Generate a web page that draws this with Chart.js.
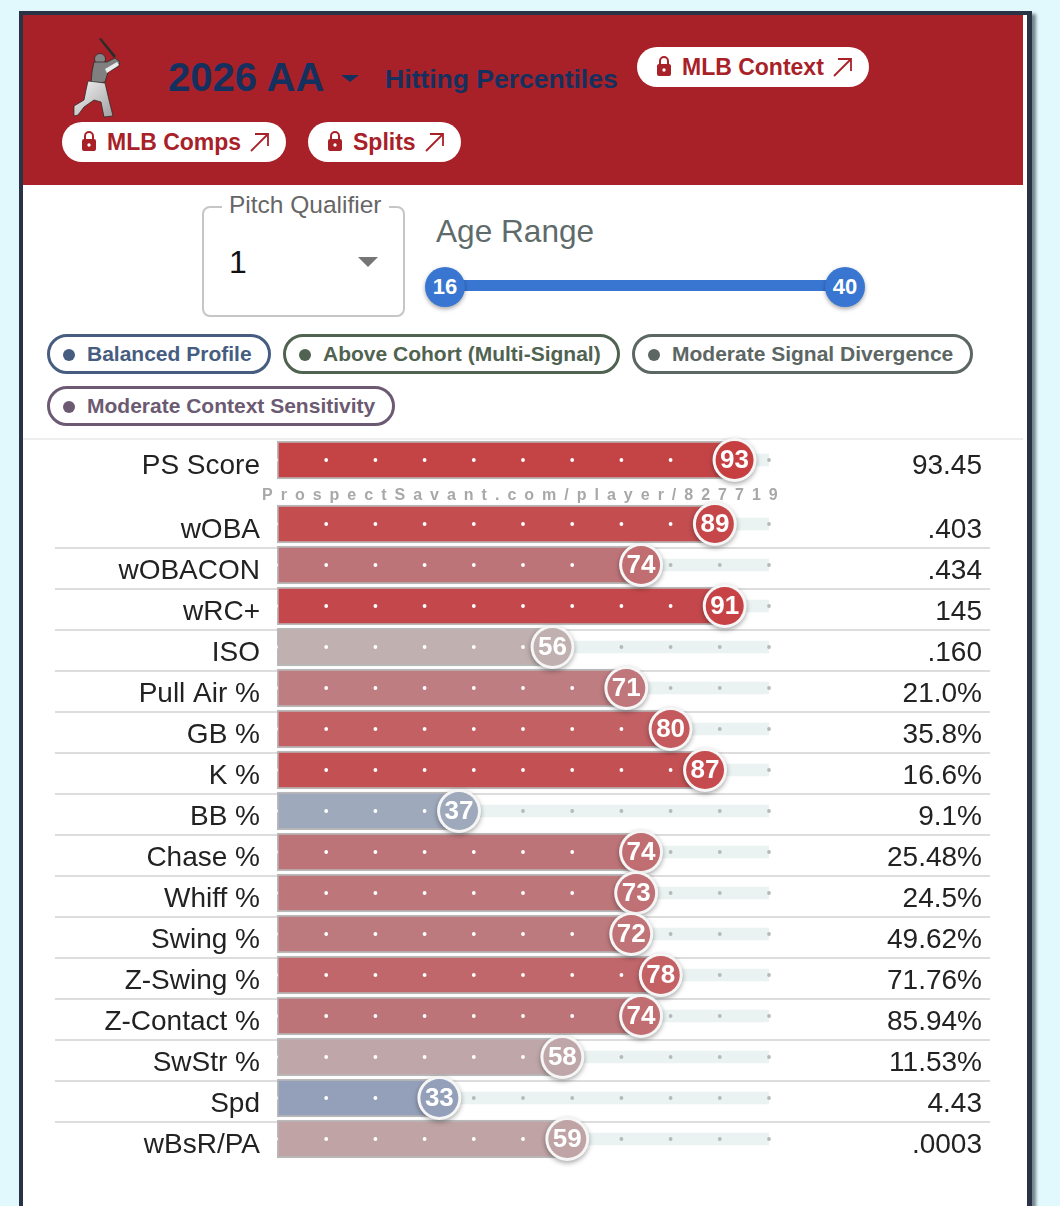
<!DOCTYPE html>
<html><head><meta charset="utf-8">
<script src="https://cdn.jsdelivr.net/npm/chart.js@4"></script>
<style>
html,body{margin:0;padding:0;background:#e1f9fd;width:1060px;height:1206px;overflow:hidden;font-family:"Liberation Sans",Arial,sans-serif}
.abs,.pill,.tag,canvas{position:absolute}
#card{position:absolute;left:19px;top:11px;width:1004px;height:1300px;background:#fff;border:4px solid #2a3346;border-right-width:5px;box-shadow:4px 3px 3px rgba(30,40,50,.55)}
#head{position:absolute;left:23px;top:15px;width:1000px;height:170px;background:#a82128}
.pill{height:40px;background:#fff;border-radius:20px;color:#a82128;font-weight:700;font-size:23px;line-height:40px;white-space:nowrap;box-sizing:border-box}
.pill svg{position:absolute}
.pill svg.lock{top:8px;left:18px}
.pill span{position:absolute;top:0}
.tag{height:40px;box-sizing:border-box;border:3px solid;border-radius:20px;background:#fff;font-weight:700;font-size:21px;line-height:34px;white-space:nowrap}
.tag i{position:absolute;left:13px;top:12px;width:12px;height:12px;border-radius:50%;background:currentColor}
.tag span{position:absolute;left:37px;top:0}
.thumb{position:absolute;width:40px;height:40px;border-radius:50%;background:#3876d2;color:#fff;font-weight:700;font-size:22px;line-height:40px;text-align:center;box-shadow:0 2px 4px rgba(0,0,0,.35)}
</style></head><body>
<div id="card"></div><div id="head"></div>

<svg class="abs" style="left:70px;top:34px" width="56" height="88" viewBox="70 34 56 88">
<defs><linearGradient id="u" x1="0" y1="0" x2="1" y2="1"><stop offset="0" stop-color="#f6f6f6"/><stop offset="1" stop-color="#a0a0a0"/></linearGradient></defs>
<path d="M99 39 L101 38 L116 56 L114 58Z" fill="#2b2b2b"/>
<circle cx="100" cy="59" r="5.5" fill="#858585" stroke="#222" stroke-width=".7"/>
<path d="M94 62 L107 62 L115 58 L120 62 L118 67 L108 72 L105 82 L91 84 L92 72Z" fill="#808080" stroke="#222" stroke-width=".7"/>
<path d="M105 69 L117 62 L119 65 L107 73Z" fill="#ececec"/>
<path d="M88 81 L105 83 L109 100 L113 116 L104 117 L101 102 L94 100 L84 107 L78 115 L74 116 L74 106 L84 100 L86 90Z" fill="url(#u)" stroke="#222" stroke-width=".7"/>
</svg>

<div class="abs" style="left:168px;top:53px;font-size:40px;font-weight:700;color:#14305f;line-height:48px">2026 AA</div>
<div class="abs" style="left:341px;top:75px;width:0;height:0;border-left:9px solid transparent;border-right:9px solid transparent;border-top:7px solid #14305f"></div>
<div class="abs" style="left:385px;top:63px;font-size:26.5px;font-weight:700;color:#14305f;line-height:32px;white-space:nowrap">Hitting Percentiles</div>

<div class="pill" style="left:637px;top:47px;width:232px"><svg class="lock" width="18" height="22" viewBox="0 0 18 22"><path d="M5 9V6a4 4 0 0 1 8 0v3" fill="none" stroke="#a82128" stroke-width="2"/><rect x="2" y="9" width="14" height="12" rx="2" fill="#a82128"/><circle cx="9" cy="15" r="1.7" fill="#fff"/></svg><span style="left:45px">MLB Context</span><svg style="left:195px;top:10px" width="22" height="20" viewBox="0 0 22 20"><path d="M2 19 L19 2 M6 2 H19 V14" fill="none" stroke="#a82128" stroke-width="1.8"/></svg></div>
<div class="pill" style="left:62px;top:122px;width:224px"><svg class="lock" width="18" height="22" viewBox="0 0 18 22"><path d="M5 9V6a4 4 0 0 1 8 0v3" fill="none" stroke="#a82128" stroke-width="2"/><rect x="2" y="9" width="14" height="12" rx="2" fill="#a82128"/><circle cx="9" cy="15" r="1.7" fill="#fff"/></svg><span style="left:45px">MLB Comps</span><svg style="left:187px;top:10px" width="22" height="20" viewBox="0 0 22 20"><path d="M2 19 L19 2 M6 2 H19 V14" fill="none" stroke="#a82128" stroke-width="1.8"/></svg></div>
<div class="pill" style="left:308px;top:122px;width:153px"><svg class="lock" width="18" height="22" viewBox="0 0 18 22"><path d="M5 9V6a4 4 0 0 1 8 0v3" fill="none" stroke="#a82128" stroke-width="2"/><rect x="2" y="9" width="14" height="12" rx="2" fill="#a82128"/><circle cx="9" cy="15" r="1.7" fill="#fff"/></svg><span style="left:45px">Splits</span><svg style="left:116px;top:10px" width="22" height="20" viewBox="0 0 22 20"><path d="M2 19 L19 2 M6 2 H19 V14" fill="none" stroke="#a82128" stroke-width="1.8"/></svg></div>

<div class="abs" style="left:202px;top:206px;width:199px;height:107px;border:2px solid #c6c6c6;border-radius:8px"></div>
<div class="abs" style="left:222px;top:190px;padding:0 7px;background:#fff;font-size:24.5px;color:#666;line-height:30px;white-space:nowrap">Pitch Qualifier</div>
<div class="abs" style="left:229px;top:243px;font-size:32px;color:#111;line-height:38px">1</div>
<div class="abs" style="left:358px;top:257px;width:0;height:0;border-left:10px solid transparent;border-right:10px solid transparent;border-top:10px solid #757575"></div>
<div class="abs" style="left:436px;top:212px;font-size:31.6px;color:#5f6b6b;line-height:38px;white-space:nowrap">Age Range</div>
<div class="abs" style="left:445px;top:280px;width:400px;height:11px;background:#3876d2"></div>
<div class="thumb" style="left:425px;top:267px">16</div>
<div class="thumb" style="left:825px;top:267px">40</div>

<div class="tag" style="left:47px;top:334px;width:224px;color:#465d80"><i></i><span>Balanced Profile</span></div>
<div class="tag" style="left:283px;top:334px;width:337px;color:#4f6350"><i></i><span>Above Cohort (Multi-Signal)</span></div>
<div class="tag" style="left:632px;top:334px;width:341px;color:#5c6663"><i></i><span>Moderate Signal Divergence</span></div>
<div class="tag" style="left:47px;top:386px;width:348px;color:#6c5a72"><i></i><span>Moderate Context Sensitivity</span></div>
<div class="abs" style="left:23px;top:438px;width:1000px;height:2px;background:#eeeeee"></div>

<canvas id="top" style="left:0;top:415px" width="1060" height="90"></canvas>
<canvas id="rows" style="left:0;top:480px" width="1060" height="710"></canvas>
<div class="abs" style="left:262px;top:486px;font-size:16px;font-weight:700;color:#a8a8a8;letter-spacing:8px;line-height:18px;white-space:nowrap">ProspectSavant.com/player/827719</div>

<script>
const scoreLabels = ["PS Score"];
const scorePercentiles = [93];
const scoreValues = ["93.45"];

const metricLabels = ["wOBA","wOBACON","wRC+","ISO","Pull Air %","GB %","K %","BB %","Chase %","Whiff %","Swing %","Z-Swing %","Z-Contact %","SwStr %","Spd","wBsR/PA"];
const metricPercentiles = [89,74,91,56,71,80,87,37,74,73,72,78,74,58,33,59];
const metricValues = [".403",".434","145",".160","21.0%","35.8%","16.6%","9.1%","25.48%","24.5%","49.62%","71.76%","85.94%","11.53%","4.43",".0003"];

const dotTicks = [0,10,20,30,40,50,60,70,80,90,100];

// percentile -> colour ramp
const ramp = [[33,[148,160,186]],[37,[159,169,188]],[56,[192,176,176]],[59,[191,163,165]],[74,[189,116,120]],[80,[194,96,100]],[93,[196,68,70]]];
function mix(p){
  let a=ramp[0],b=ramp[ramp.length-1];
  for(let i=0;i<ramp.length-1;i++){ if(p>=ramp[i][0]&&p<=ramp[i+1][0]){a=ramp[i];b=ramp[i+1];break;} }
  const t=(p-a[0])/((b[0]-a[0])||1);
  return a[1].map((c,i)=>Math.round(c+(b[1][i]-c)*t));
}
const barColor=p=>`rgb(${mix(p).join(',')})`;
const badgeColor=p=>{const c=mix(p);const k=p>=65?6:0;return `rgb(${c[0]+k*0.5},${c[1]-k},${c[2]-k})`;};

const rowPlugin={
  id:'rowDecor',
  beforeDatasetsDraw(chart){
    const {ctx,scales:{y}}=chart;
    if(!chart.options.rowRules) return;
    const step=chart.options.rowStep;
    ctx.save();ctx.fillStyle='#dddddd';
    chart.data.labels.forEach((l,i)=>{
      if(i===chart.data.labels.length-1) return;
      ctx.fillRect(55,Math.round(y.getPixelForValue(i)+step/2+3)-1,935,2);
    });
    ctx.restore();
  },
  afterDatasetsDraw(chart){
    const {ctx,scales:{x,y}}=chart;
    const vals=chart.data.datasets[0].data;
    ctx.save();
    vals.forEach((p,i)=>{
      const cy=y.getPixelForValue(i);
      dotTicks.forEach(t=>{
        ctx.beginPath();
        ctx.arc(x.getPixelForValue(t)-(t===0?1:0),cy,1.9,0,Math.PI*2);
        ctx.fillStyle=t<p?'#ffffff':'#b4baba';
        ctx.fill();
      });
    });
    vals.forEach((p,i)=>{
      const cy=y.getPixelForValue(i);
      const cx=x.getPixelForValue(p);
      ctx.save();
      ctx.shadowColor='rgba(0,0,0,.35)';ctx.shadowBlur=5;ctx.shadowOffsetY=2;
      ctx.beginPath();ctx.arc(cx,cy,22,0,Math.PI*2);ctx.fillStyle='#f6f6f6';ctx.fill();
      ctx.restore();
      ctx.beginPath();ctx.arc(cx,cy,19,0,Math.PI*2);ctx.fillStyle=badgeColor(p);ctx.fill();
      ctx.fillStyle='#fff';ctx.font='700 26px "Liberation Sans"';ctx.textAlign='center';ctx.textBaseline='middle';
      ctx.fillText(String(p),cx,cy+1);
    });
    ctx.restore();
  }
};

function build(id,labels,pcts,vals,topPad,bottomPad,rightGap,rules){
  return new Chart(document.getElementById(id),{
    type:'bar',
    data:{labels,datasets:[
      {data:pcts,order:1,barThickness:38,grouped:false,backgroundColor:pcts.map(barColor),
       borderColor:'#b9b9b9',borderWidth:2,borderSkipped:'right',yAxisID:'y'},
      {data:pcts.map(()=>dotTicks[dotTicks.length-1]),order:2,barThickness:12,grouped:false,backgroundColor:'#eaf2f2',borderWidth:0,yAxisID:'y'}
    ]},
    options:{
      indexAxis:'y',responsive:false,animation:false,devicePixelRatio:1,
      rowStep:41,rowRules:rules,
      layout:{padding:{top:topPad,bottom:bottomPad,left:0,right:78}},
      plugins:{legend:{display:false},tooltip:{enabled:false},title:{display:false}},
      scales:{
        x:{type:'linear',min:0,max:100,display:false},
        y:{type:'category',position:'left',labels,
           afterFit(s){s.width=277;},
           grid:{display:false,drawTicks:true,tickLength:17},border:{display:false},
           ticks:{autoSkip:false,color:'#222',padding:0,labelOffset:6,font:{family:'Liberation Sans',size:28}}},
        y2:{type:'category',position:'right',labels:vals,
           afterFit(s){s.width=213;},
           grid:{display:false,drawTicks:true,tickLength:rightGap},border:{display:false},
           ticks:{autoSkip:false,crossAlign:'far',color:'#222',padding:0,labelOffset:6,font:{family:'Liberation Sans',size:28}}}
      }
    },
    plugins:[rowPlugin]
  });
}
build('top',scoreLabels,scorePercentiles,scoreValues,24.5,24.5,142,false);
build('rows',metricLabels,metricPercentiles,metricValues,23.5,30.5,117,true);
</script>
</body></html>
